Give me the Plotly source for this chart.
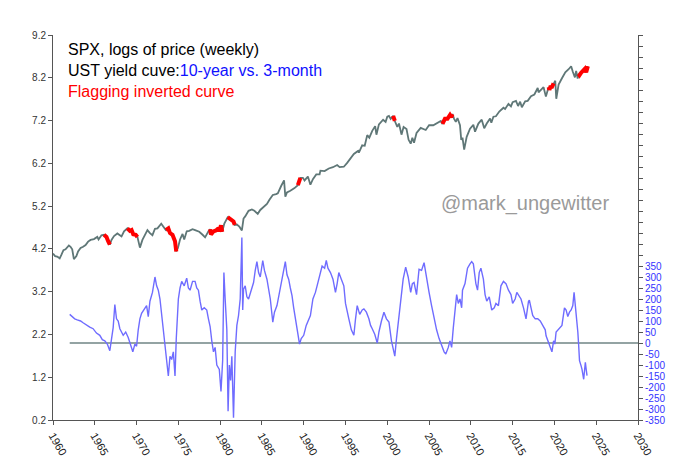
import numpy as np
import plotly.graph_objects as go

# ---------------- data ----------------
spx_years = [1960.0, 1960.25, 1960.5, 1960.8, 1961.0, 1961.25, 1961.5, 1961.9, 1962.1, 1962.3,
             1962.5, 1962.8, 1963.0, 1963.3, 1963.6, 1963.9, 1964.2, 1964.5, 1964.9, 1965.3,
             1965.45, 1965.8, 1966.1, 1966.4, 1966.6, 1966.8, 1967.0, 1967.3, 1967.7, 1968.2,
             1968.5, 1968.9, 1969.2, 1969.4, 1969.6, 1969.9, 1970.1, 1970.4, 1970.7, 1971.0,
             1971.3, 1971.6, 1971.9, 1972.2, 1972.5, 1972.95, 1973.3, 1973.5, 1973.8, 1974.0,
             1974.3, 1974.6, 1974.75, 1974.95, 1975.2, 1975.5, 1975.7, 1976.0, 1976.3, 1976.7,
             1977.0, 1977.5, 1977.9, 1978.2, 1978.6, 1978.8, 1978.9, 1979.2, 1979.5, 1979.8,
             1979.85, 1980.1, 1980.25, 1980.5, 1980.9, 1981.3, 1981.6, 1981.75, 1982.0, 1982.3,
             1982.6, 1982.8, 1983.0, 1983.4, 1983.8, 1984.1, 1984.5, 1984.8, 1985.2, 1985.6,
             1985.9, 1986.3, 1986.7, 1986.9, 1987.3, 1987.65, 1987.8, 1988.0, 1988.4, 1988.9,
             1989.3, 1989.6, 1989.9, 1990.1, 1990.5, 1990.8, 1991.1, 1991.5, 1991.9, 1992.0,
             1992.5, 1993.0, 1993.5, 1994.0, 1994.3, 1994.8, 1995.2, 1995.6, 1996.0, 1996.5,
             1996.6, 1997.0, 1997.3, 1997.6, 1997.85, 1998.2, 1998.55, 1998.7, 1999.0, 1999.5,
             1999.8, 2000.0, 2000.2, 2000.4, 2000.7, 2000.9, 2001.2, 2001.4, 2001.7, 2001.95,
             2002.3, 2002.55, 2002.8, 2003.0, 2003.2, 2003.5, 2004.0, 2004.6, 2005.0, 2005.5,
             2006.0, 2006.4, 2006.6, 2006.9, 2007.2, 2007.5, 2007.65, 2007.8, 2008.0, 2008.2,
             2008.4, 2008.7, 2008.85, 2009.0, 2009.2, 2009.5, 2009.9, 2010.3, 2010.5, 2010.9,
             2011.3, 2011.6, 2011.9, 2012.3, 2012.45, 2012.7, 2013.0, 2013.4, 2013.9, 2014.1,
             2014.5, 2014.8, 2015.0, 2015.4, 2015.65, 2015.9, 2016.1, 2016.5, 2016.8, 2017.2,
             2017.6, 2018.0, 2018.1, 2018.7, 2018.98, 2019.3, 2019.4, 2019.55, 2019.65, 2019.9,
             2020.1, 2020.22, 2020.5, 2020.9, 2021.3, 2021.7, 2022.0, 2022.2, 2022.45, 2022.6,
             2022.78, 2022.9, 2023.0, 2023.2, 2023.5, 2023.65, 2023.8, 2023.9, 2024.0]
spx_log = [4.09, 4.03, 4.02, 3.98, 4.06, 4.17, 4.19, 4.28, 4.25, 4.19,
           3.96, 4.03, 4.14, 4.22, 4.25, 4.29, 4.37, 4.41, 4.43, 4.48,
           4.42, 4.52, 4.53, 4.48, 4.38, 4.30, 4.41, 4.50, 4.56, 4.49,
           4.61, 4.68, 4.62, 4.64, 4.54, 4.53, 4.48, 4.23, 4.41, 4.52,
           4.64, 4.57, 4.52, 4.67, 4.68, 4.79, 4.70, 4.64, 4.68, 4.57,
           4.53, 4.38, 4.14, 4.22, 4.42, 4.55, 4.42, 4.61, 4.62, 4.66,
           4.64, 4.60, 4.53, 4.47, 4.61, 4.66, 4.54, 4.61, 4.63, 4.68,
           4.61, 4.75, 4.60, 4.79, 4.94, 4.89, 4.84, 4.76, 4.77, 4.72,
           4.63, 4.91, 4.96, 5.09, 5.12, 5.09, 5.02, 5.11, 5.19, 5.25,
           5.35, 5.46, 5.48, 5.50, 5.67, 5.80, 5.42, 5.52, 5.56, 5.62,
           5.69, 5.86, 5.86, 5.80, 5.89, 5.70, 5.83, 5.94, 5.94, 6.03,
           6.02, 6.08, 6.11, 6.16, 6.11, 6.12, 6.21, 6.33, 6.42, 6.49,
           6.45, 6.62, 6.61, 6.86, 6.80, 6.96, 7.07, 6.87, 7.11, 7.22,
           7.17, 7.29, 7.31, 7.24, 7.31, 7.19, 7.05, 7.13, 6.87, 7.05,
           7.00, 6.75, 6.66, 6.80, 6.68, 6.91, 7.03, 6.98, 7.09, 7.09,
           7.15, 7.19, 7.12, 7.24, 7.24, 7.33, 7.28, 7.35, 7.24, 7.17,
           7.26, 7.09, 6.75, 6.80, 6.52, 6.82, 7.01, 7.10, 6.94, 7.13,
           7.22, 7.02, 7.13, 7.25, 7.15, 7.29, 7.30, 7.41, 7.50, 7.47,
           7.59, 7.53, 7.63, 7.66, 7.54, 7.64, 7.51, 7.65, 7.66, 7.77,
           7.81, 7.96, 7.86, 7.98, 7.76, 7.98, 7.92, 8.01, 7.96, 8.07,
           8.13, 7.71, 8.04, 8.19, 8.33, 8.40, 8.47, 8.34, 8.21, 8.36,
           8.18, 8.29, 8.26, 8.32, 8.40, 8.41, 8.33, 8.42, 8.47]

curve_years = [1962.0, 1962.3, 1962.6, 1962.9, 1963.3, 1963.6, 1964.0, 1964.4, 1964.8, 1965.2,
               1965.6, 1965.9, 1966.2, 1966.5, 1966.8, 1967.0, 1967.2, 1967.4, 1967.6, 1967.8,
               1968.0, 1968.4, 1968.7, 1969.0, 1969.3, 1969.55, 1969.8, 1970.0, 1970.2, 1970.4,
               1970.6, 1970.9, 1971.2, 1971.4, 1971.6, 1971.9, 1972.2, 1972.4, 1972.6, 1972.8,
               1973.0, 1973.2, 1973.4, 1973.6, 1973.8, 1974.0, 1974.2, 1974.4, 1974.6, 1974.75,
               1975.0, 1975.2, 1975.4, 1975.7, 1976.0, 1976.2, 1976.4, 1976.7, 1977.0, 1977.2,
               1977.4, 1977.6, 1977.8, 1978.1, 1978.4, 1978.6, 1978.8, 1979.0, 1979.2, 1979.4,
               1979.6, 1979.9, 1980.1, 1980.3, 1980.45, 1980.6, 1980.8, 1980.95, 1981.1, 1981.25,
               1981.4, 1981.6, 1981.7, 1981.8, 1982.0, 1982.2, 1982.4, 1982.6, 1982.7, 1982.8,
               1983.0, 1983.2, 1983.4, 1983.7, 1984.0, 1984.2, 1984.4, 1984.6, 1984.8, 1985.1,
               1985.3, 1985.6, 1985.8, 1986.0, 1986.3, 1986.5, 1986.8, 1987.1, 1987.4, 1987.6,
               1987.8, 1988.0, 1988.2, 1988.4, 1988.6, 1988.8, 1989.0, 1989.2, 1989.5, 1989.7,
               1990.0, 1990.3, 1990.6, 1990.8, 1991.1, 1991.4, 1991.6, 1991.9, 1992.2, 1992.5,
               1992.7, 1992.9, 1993.2, 1993.5, 1993.8, 1994.0, 1994.2, 1994.5, 1994.8, 1995.0,
               1995.2, 1995.4, 1995.7, 1996.0, 1996.2, 1996.4, 1996.7, 1997.0, 1997.2, 1997.5,
               1997.8, 1998.0, 1998.2, 1998.5, 1998.8, 1999.0, 1999.3, 1999.6, 1999.9, 2000.2,
               2000.5, 2000.7, 2000.9, 2001.1, 2001.4, 2001.7, 2001.9, 2002.2, 2002.5, 2002.8,
               2003.0, 2003.2, 2003.5, 2003.8, 2004.1, 2004.4, 2004.7, 2005.0, 2005.3, 2005.6,
               2005.9, 2006.2, 2006.5, 2006.8, 2007.0, 2007.3, 2007.5, 2007.7, 2007.9, 2008.1,
               2008.3, 2008.5, 2008.7, 2008.9, 2009.0, 2009.3, 2009.6, 2009.9, 2010.1, 2010.3,
               2010.6, 2010.8, 2011.0, 2011.2, 2011.5, 2011.7, 2011.9, 2012.2, 2012.5, 2012.8,
               2013.0, 2013.3, 2013.6, 2013.9, 2014.2, 2014.5, 2014.8, 2015.0, 2015.3, 2015.5,
               2015.8, 2016.0, 2016.3, 2016.6, 2016.9, 2017.0, 2017.2, 2017.4, 2017.7, 2018.0,
               2018.3, 2018.6, 2018.9, 2019.0, 2019.2, 2019.4, 2019.7, 2019.9, 2020.05, 2020.2,
               2020.4, 2020.6, 2020.9, 2021.2, 2021.4, 2021.6, 2021.8, 2022.0, 2022.2, 2022.35,
               2022.5, 2022.6, 2022.8, 2022.9, 2023.0, 2023.2, 2023.3, 2023.5, 2023.6, 2023.7,
               2023.8, 2023.9]
curve_bp = [130, 120, 110, 105, 100, 92, 80, 72, 65, 45,
            35, 15, 10, -5, -35, 20, 70, 175, 110, 100,
            65, 35, 50, 25, -10, -40, -5, -15, 60, 110,
            135, 150, 170, 120, 190, 230, 300, 260, 240, 200,
            125, 60, -15, -90, -150, -60, -75, -40, -150, 20,
            200, 250, 280, 260, 295, 250, 240, 280, 280, 250,
            240, 190, 150, 160, 150, 110, 75, 10, -40, -20,
            -100, -120, -220, -80, 320, 200, 60, -310, -100, -170,
            -60, -340, -150, -40, 80, 125, 200, 480, 150, 245,
            260, 210, 200, 240, 275, 330, 370, 320, 300, 375,
            330, 290, 250, 200, 95, 140, 170, 230, 275, 320,
            370, 310, 290, 250, 215, 160, 110, 60, -5, 20,
            35, 80, 110, 125, 200, 230, 260, 310, 350, 340,
            375, 340, 320, 290, 230, 270, 320, 290, 260, 180,
            140, 110, 60, 35, 110, 170, 130, 150, 155, 140,
            110, 80, 65, 40, 0, 50, 100, 140, 110, 95,
            10, -30, -60, 20, 125, 200, 290, 345, 300, 230,
            270, 275, 220, 335, 330, 365, 290, 230, 170, 110,
            60, 20, -10, -40, -50, -20, 10, -20, 70, 150,
            220, 180, 200, 160, 240, 270, 340, 360, 370, 360,
            270, 240, 320, 340, 290, 220, 190, 210, 150, 160,
            180, 170, 260, 280, 270, 240, 220, 180, 200, 230,
            210, 200, 160, 110, 190, 195, 160, 125, 110, 110,
            100, 80, 60, 33, 10, -10, -40, 10, -5, 50,
            60, 65, 80, 160, 150, 120, 140, 150, 170, 230,
            180, 125, 50, -10, -80, -105, -120, -165, -110, -88,
            -120, -148]

# periods where the curve is flagged as inverted (red on the SPX line)
inverted_start = [1966.1, 1968.9, 1973.35, 1978.8, 1980.75, 1989.3, 2000.5, 2006.5, 2019.2, 2022.85]
inverted_end = [1966.9, 1970.15, 1974.8, 1980.35, 1981.9, 1989.7, 2001.15, 2007.8, 2019.9, 2024.0]

zero_line_from = 1962.0
x_ticks = list(range(1960, 2031, 5))
left_ticks = [0.2, 1.2, 2.2, 3.2, 4.2, 5.2, 6.2, 7.2, 8.2, 9.2]
right_ticks = list(range(-350, 1401, 50))
right_labels = [str(v) if v <= 350 else "" for v in right_ticks]

# ---------------- figure ----------------
FONT = "Liberation Sans, Arial, sans-serif"
sx = np.array(spx_years)
sy = np.array(spx_log)

red_x, red_y = [], []
for s, e in zip(inverted_start, inverted_end):
    m = (sx >= s) & (sx <= e)
    red_x += list(sx[m]) + [None]
    red_y += list(sy[m]) + [None]

fig = go.Figure()
fig.add_trace(go.Scatter(x=[zero_line_from, 2030], y=[0, 0], yaxis="y2", mode="lines",
                         line=dict(color="#6f8585", width=1.5), hoverinfo="skip"))
fig.add_trace(go.Scatter(x=curve_years, y=curve_bp, yaxis="y2", mode="lines",
                         line=dict(color="#6f6cff", width=1.4)))
fig.add_trace(go.Scatter(x=spx_years, y=spx_log, mode="lines",
                         line=dict(color="#5f7777", width=1.8)))
fig.add_trace(go.Scatter(x=red_x, y=red_y, mode="lines", connectgaps=False,
                         line=dict(color="#ff0000", width=4)))

axis_common = dict(showline=True, linecolor="#555555", linewidth=1, ticks="outside",
                   tickcolor="#555555", ticklen=4, showgrid=False, zeroline=False,
                   automargin=False)

# the page body has an 8px margin, so the figure is slightly smaller and the
# margins are set so the plot area lands at x 53..638, y 35..420 in the window
fig.update_layout(
    width=672, height=457,
    margin=dict(l=45, r=42, t=27, b=45),
    paper_bgcolor="white", plot_bgcolor="white",
    showlegend=False,
    font=dict(family=FONT, size=10, color="#333333"),
    xaxis=dict(range=[1960, 2030], tickvals=x_ticks, tickangle=60,
               tickfont=dict(size=11, color="#222222"), **axis_common),
    yaxis=dict(range=[0.2, 9.2], tickvals=left_ticks, ticktext=[f"{v:.1f}" for v in left_ticks],
               tickfont=dict(size=10, color="#333333"), **axis_common),
    yaxis2=dict(range=[-350, 1400], overlaying="y", side="right", anchor="x",
                tickvals=right_ticks, ticktext=right_labels,
                tickfont=dict(size=10, color="#3333ff"), **axis_common),
)

fig.add_annotation(
    xref="paper", yref="paper", x=0.023, y=0.99, xanchor="left", yanchor="top",
    align="left", showarrow=False,
    font=dict(family=FONT, size=16, color="#000000"),
    text=("SPX, logs of price (weekly)<br>UST yield cuve:"
          "<span style='color:#1010ff'>10-year vs. 3-month</span><br>"
          "<span style='color:#ff0000'>Flagging inverted curve</span>"),
)
fig.add_annotation(
    xref="paper", yref="paper", x=0.806, y=0.5636, xanchor="center", yanchor="middle",
    showarrow=False, text="@mark_ungewitter",
    font=dict(family=FONT, size=20, color="#9a9a9a"),
)

fig.write_html("out.html")
